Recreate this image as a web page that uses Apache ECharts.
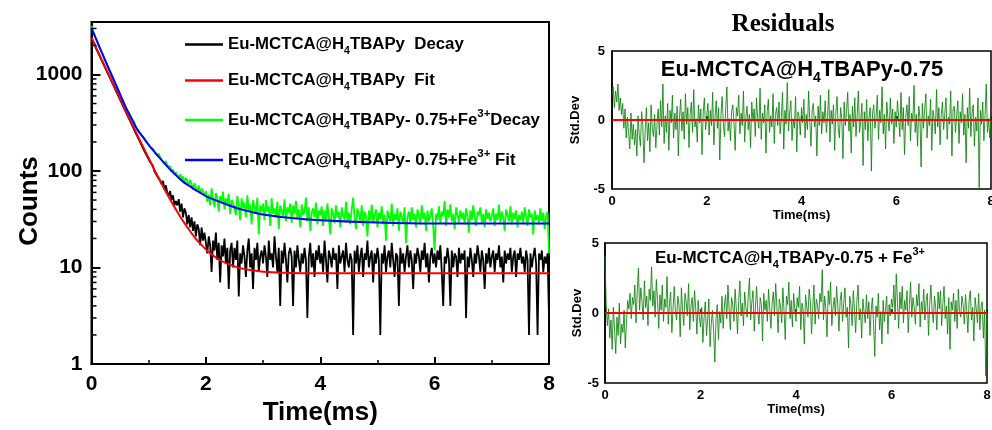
<!DOCTYPE html>
<html><head><meta charset="utf-8">
<script src="https://cdn.jsdelivr.net/npm/echarts@6/dist/echarts.min.js"></script>
<style>html,body{margin:0;padding:0;background:#fff}#c{width:992px;height:430px}</style>
</head><body><div id="c"></div>
<script>
// ---------- DATA ----------
const decayStep = 0.025; // ms between decay samples
const blackDecay = [
2430,2210,2100,1890,1820,1640,1570,1410,1360,1220,1170,1050,1010,915,880,790,760,680,655,590,
570,508,495,440,428,380,372,330,322,285,280,246,243,214,212,186,184,161,160,141,
138,124,121,113,99,101,88,91,80,73,79,64,71,60,55,62,50,56,44,49,
44,51,38,46,33,41,37,28,35,26,33,24,30,21,28,25,17,26,19,23,
22,14,21,17,9,19,15,23,12,18,7,17,13,20,11,16,6,15,18,10,
16,12,19,5,14,11,17,13,8,15,20,10,14,6,16,12,18,9,13,15,
11,17,13,8,19,12,14,10,21,13,9,16,4,15,11,18,12,7,14,16,
13,4,15,10,17,12,9,14,11,16,12,3,13,18,10,14,8,15,12,17,
11,14,9,19,12,7,15,13,10,16,12,14,6,17,11,13,15,9,18,12,
10,14,12,2,15,11,17,9,13,16,8,14,12,19,10,13,15,7,14,11,
16,12,2,14,11,17,9,13,15,10,18,12,8,14,13,4,16,11,14,9,
13,17,10,15,12,6,14,11,16,13,9,15,12,18,10,14,7,13,16,11,
14,10,15,12,17,9,4,13,11,16,12,4,15,10,14,13,8,16,11,14,
12,15,3,13,10,16,12,8,14,11,17,13,9,15,12,6,14,11,16,10,
13,15,9,14,12,17,10,13,7,15,11,14,12,16,9,13,15,8,14,12,
16,11,13,9,15,12,2,14,10,13,16,11,2,14,12,15,9,13,11,14,
3];
const greenDecay = [
3200,2780,2620,2350,2230,1990,1900,1700,1620,1450,1390,1240,1190,1060,1020,905,870,775,745,665,
640,570,550,488,470,432,410,372,362,335,318,286,281,262,255,236,233,218,212,198,
194,178,176,170,161,163,144,152,139,131,135,118,127,114,109,112,98,104,92,97,
95,84,93,81,88,76,85,79,70,81,73,64,75,68,62,71,58,66,61,55,
62,48,57,44,66,51,42,59,53,38,55,47,61,40,52,45,58,36,50,47,
49,35,55,44,31,52,41,47,33,56,39,45,28,50,42,36,53,22,44,38,
46,31,50,38,43,27,52,36,41,33,48,25,44,39,34,51,30,42,37,46,
29,44,36,49,32,40,26,45,35,38,53,30,42,24,37,41,33,47,28,39,
35,43,27,39,31,46,34,22,41,36,29,44,33,38,26,42,35,31,48,30,
37,28,40,53,33,25,41,36,30,44,27,38,34,21,39,31,45,29,35,40,
26,37,32,43,28,35,19,39,33,30,46,27,36,31,41,24,38,34,29,42,
18,33,38,29,42,31,36,26,40,34,28,44,32,37,24,39,30,35,41,27,
15,36,31,43,29,38,34,49,27,40,33,45,30,36,25,42,35,29,39,32,
37,28,41,34,23,39,31,44,33,27,38,35,42,29,36,26,40,32,37,30,
34,41,27,36,31,45,29,38,33,24,40,35,30,43,28,37,32,39,26,35,
31,38,29,42,34,27,40,33,36,22,39,31,35,28,41,30,37,25,34,38,
14];
const fitTime = [0,0.1,0.2,0.3,0.4,0.5,0.6,0.7,0.8,0.9,1.0,1.1,1.2,1.3,1.4,1.5,1.6,1.7,1.8,1.9,2.0,2.2,2.4,2.6,2.8,3.0,3.5,4,5,6,7,8];
const redFit  = [2409,1797,1342,1003,749,561,420,315,237,179,136,103,79,61,47.8,37.9,30.4,24.9,20.7,17.7,15.4,12.4,10.8,9.85,9.34,9.05,8.79,8.72,8.7,8.7,8.7,8.7];
const blueFit = [3020,2188,1585,1161,851,624,457,351,269,224,186,158,135,116,100,88,77.6,70.8,64.6,59.6,55,49,44.2,40.3,37.6,35.5,32.5,30.9,29.2,28.5,28.5,28.5];

const residStep = 0.025;
const resid1 = [
1.8,2.4,0.9,2.1,1.3,2.6,0.7,1.6,0.4,1.2,-0.6,0.8,-1.3,0.2,-0.9,-2.1,0.5,-1.4,-0.3,-1.8,
-0.7,-2.6,0.3,-1.1,-1.9,0.6,-0.4,-3.1,-0.8,0.9,-1.5,-0.2,-2.3,1.1,-0.6,-1.2,0.4,-2.0,-0.3,0.8,
-1.1,1.4,-0.5,2.6,-1.7,0.3,-0.9,1.2,-2.2,0.7,-0.2,1.8,-1.3,0.5,-0.7,1.0,-2.6,0.2,1.5,-0.8,
0.6,-1.4,1.9,-0.3,0.9,-2.0,0.4,1.3,-0.9,2.2,-0.5,0.1,-1.6,1.1,-0.2,0.8,-2.5,0.5,1.6,-0.7,
0.3,1.2,-1.1,0.7,-0.4,2.0,-1.8,0.2,1.4,-0.6,0.9,-2.9,0.4,1.7,-0.3,-1.2,0.8,2.4,-0.8,0.1,
-1.5,0.6,1.1,-0.2,-2.2,0.9,0.3,1.8,-1.0,0.5,-0.4,2.1,-1.6,0.2,1.0,-0.7,0.4,-2.0,1.3,-0.1,
0.8,-1.2,1.6,0.1,-0.6,2.3,-1.4,0.5,-0.2,1.1,-2.4,0.6,1.5,-0.9,0.3,-0.5,1.9,-1.7,0.4,0.9,
-0.4,1.3,-1.0,0.2,2.0,-2.1,0.7,-0.3,2.7,-0.8,0.5,1.4,-1.5,0.1,-0.6,1.7,-2.3,0.6,0.2,-1.1,
0.9,-0.2,1.5,-1.3,0.4,-0.7,2.1,-0.1,-1.9,0.8,1.2,-0.5,0.3,-2.6,1.0,-0.4,1.8,-1.0,0.6,-0.2,
1.4,-0.9,0.2,2.2,-1.6,0.7,-0.3,1.1,-2.2,0.5,1.7,-0.6,-1.3,0.9,0.1,-2.8,1.3,-0.4,0.6,2.0,
-0.8,0.4,-2.4,1.0,-0.5,1.6,-1.2,0.3,2.1,-0.9,-0.1,1.2,-3.3,0.6,-0.7,1.5,-1.5,0.2,0.9,-3.7,
0.5,1.1,-0.6,0.2,1.8,-1.4,0.7,-0.2,2.4,-1.0,0.4,-2.1,1.3,0.1,-0.8,1.6,-0.3,0.8,-1.7,0.6,
-0.5,1.4,0.3,-1.2,2.0,-0.7,0.9,-2.5,0.2,1.1,-0.4,1.7,-1.5,0.5,-0.1,2.5,-0.9,0.4,-1.9,1.0,
0.2,-3.4,1.2,-0.6,0.8,1.9,-1.3,0.3,-0.4,1.5,-2.2,0.7,0.1,-1.0,2.2,-0.5,0.9,-1.8,0.4,1.3,
-0.7,0.5,1.6,-1.4,0.2,-0.3,2.1,-2.6,0.8,1.0,-0.9,0.3,1.4,-1.7,0.6,-0.2,1.9,-1.1,0.4,-3.1,
0.9,-0.6,2.3,-1.2,0.5,1.1,-1.9,0.2,-0.8,1.6,-4.9,0.7,-0.3,1.3,-1.5,0.4,2.6,-0.9,0.1,-1.3,
0.3];
const resid2 = [
4.1,0.6,-0.9,0.3,-1.8,-0.5,-2.6,0.4,-1.2,-2.9,-0.3,-1.6,0.7,-2.2,-0.8,-1.4,0.2,-2.5,-0.6,0.9,
0.3,1.4,-0.4,1.1,0.6,2.0,-0.7,1.5,3.2,0.2,1.8,0.8,-0.5,2.3,0.4,1.2,-0.9,1.7,0.9,3.3,
0.5,1.6,-0.3,2.4,0.9,-1.1,1.3,0.2,2.0,-0.6,1.0,0.4,2.6,-0.8,0.7,1.5,-1.4,0.3,1.9,0.1,
-0.5,1.2,0.6,-1.7,1.8,0.2,-0.9,1.4,0.8,-0.2,2.1,-1.2,0.5,1.1,-0.6,1.6,0.3,-1.5,0.9,-0.3,
-1.0,0.4,-2.1,-0.3,0.8,-1.6,-0.5,1.0,-2.4,-0.8,0.2,-1.3,-3.5,-0.4,0.6,-1.9,0.1,-0.7,1.2,-1.1,
0.5,1.3,-0.4,2.0,0.2,-1.2,1.1,0.6,-0.6,1.7,0.3,-1.5,0.9,2.3,-0.2,0.7,-0.9,1.5,0.4,-0.3,
1.2,2.5,-0.5,0.8,1.6,-1.3,0.4,1.9,0.1,-0.8,1.1,0.6,-2.0,1.4,0.2,0.9,-0.6,1.7,0.3,-1.1,
0.7,1.5,-0.2,2.1,0.4,-1.4,1.0,0.5,-0.7,1.8,0.1,-1.9,1.2,0.6,2.2,-0.4,0.9,-1.0,1.4,0.2,
-0.6,1.1,0.4,1.9,-1.2,0.7,0.2,-2.2,1.3,0.5,-0.3,1.7,0.9,-1.5,0.3,2.0,-0.8,1.0,0.6,-0.4,
1.4,0.8,3.1,-0.5,1.2,0.3,-1.7,1.6,0.6,2.2,-0.9,0.4,1.1,-0.2,1.9,0.5,-1.3,0.9,1.5,-0.6,
0.7,1.8,-0.3,0.4,-2.5,1.2,0.6,-0.9,1.6,0.2,-1.4,0.9,2.0,-0.5,0.3,-1.8,1.0,0.1,-0.7,1.3,
-0.4,0.8,-1.6,0.2,1.1,-0.9,-3.1,0.5,-0.3,1.4,-1.2,0.1,-2.2,0.9,-0.6,0.3,1.2,-1.5,0.6,-0.2,
1.0,0.4,2.0,-0.5,2.8,0.7,-1.1,1.5,0.3,1.9,-0.7,0.9,0.2,1.6,-1.4,0.6,2.2,-0.3,1.1,0.4,
-0.8,1.3,0.5,2.1,-1.0,0.8,0.1,1.7,-0.5,0.9,1.4,-1.6,0.6,2.0,0.2,-0.7,1.2,0.4,-1.2,1.5,
0.3,1.6,-0.9,0.7,1.9,-0.4,0.5,-1.5,1.1,-2.6,0.8,0.2,1.4,-0.6,0.9,-1.1,1.7,0.1,-0.3,1.2,
0.6,-0.8,1.3,0.2,-1.4,0.9,1.6,-0.5,0.4,-2.0,1.1,0.3,-0.7,1.4,-1.2,0.5,0.8,-1.8,0.2,-4.5,
0.4];
const zeroT = [0, 8];
const zeroV = [0, 0];
const logMinorTicks = [2,3,4,5,6,7,8,9,20,30,40,50,60,70,80,90,200,300,400,500,600,700,800,900,2000,3000];
const seriesNames = ['Eu-MCTCA@H4TBAPy  Decay','Eu-MCTCA@H4TBAPy  Fit','Eu-MCTCA@H4TBAPy- 0.75+Fe3+ Decay','Eu-MCTCA@H4TBAPy- 0.75+Fe3+ Fit'];
const legendRichText = [
 '{m|Eu-MCTCA@H}{s|4}{m|TBAPy  Decay}',
 '{m|Eu-MCTCA@H}{s|4}{m|TBAPy  Fit}',
 '{m|Eu-MCTCA@H}{s|4}{m|TBAPy- 0.75+Fe}{p|3+}{m|Decay}',
 '{m|Eu-MCTCA@H}{s|4}{m|TBAPy- 0.75+Fe}{p|3+}{m| Fit}'
];

// ---------- CHART ----------
const F = '"Liberation Sans", Arial, sans-serif';
const pairs = (step, arr) => arr.map((v, i) => [Math.round(i * step * 1000) / 1000, v]);
const zip = (xs, ys) => xs.map((x, i) => [x, ys[i]]);
function richSet(base, sub, sup, lh) {
  return {
    m: {fontSize: base, fontWeight: 'bold', fontFamily: F, color: '#000', lineHeight: lh},
    s: {fontSize: sub, fontWeight: 'bold', fontFamily: F, color: '#000', lineHeight: sub, verticalAlign: 'bottom'},
    p: {fontSize: sup, fontWeight: 'bold', fontFamily: F, color: '#000', lineHeight: sup, verticalAlign: 'top'}
  };
}
const legendTop = [36, 72, 108, 148];
const legends = seriesNames.map((n, i) => ({
  data: [n], left: 185, top: legendTop[i], orient: 'vertical', padding: 0,
  itemWidth: 38, itemHeight: 2.5, icon: 'rect', selectedMode: false,
  formatter: () => legendRichText[i],
  textStyle: {rich: richSet(16.8, 10.5, 11.5, 24)}
}));

const lbl = (size) => ({fontSize: size, fontWeight: 'bold', fontFamily: F, color: '#000'});
const blackLine = (w) => ({lineStyle: {color: '#000', width: w}});

const option = {
  animation: false,
  backgroundColor: '#fff',
  legend: legends,
  grid: [
    {left: 91.5, top: 22, width: 457.5, height: 342, show: true, borderColor: '#000', borderWidth: 2, outerBoundsMode: 'none'},
    {left: 612, top: 51, width: 379, height: 138, show: true, borderColor: '#000', borderWidth: 1.5, outerBoundsMode: 'none'},
    {left: 605, top: 243, width: 382, height: 140, show: true, borderColor: '#000', borderWidth: 1.5, outerBoundsMode: 'none'}
  ],
  xAxis: [
    {gridIndex: 0, type: 'value', min: 0, max: 8, interval: 2,
     axisLine: blackLine(2), axisTick: {inside: true, length: 7, lineStyle: {color: '#000', width: 2}},
     minorTick: {show: true, splitNumber: 2, length: 4, lineStyle: {color: '#000', width: 1.5}},
     splitLine: {show: false}, axisLabel: Object.assign({margin: 10}, lbl(21)),
     name: 'Time(ms)', nameLocation: 'middle', nameGap: 33, nameTextStyle: lbl(26)},
    {gridIndex: 1, type: 'value', min: 0, max: 8, interval: 2,
     axisLine: blackLine(1.5), axisTick: {inside: true, length: 4, lineStyle: {color: '#000', width: 1.5}},
     splitLine: {show: false}, axisLabel: Object.assign({margin: 6}, lbl(13)),
     name: 'Time(ms)', nameLocation: 'middle', nameGap: 15, nameTextStyle: lbl(13)},
    {gridIndex: 2, type: 'value', min: 0, max: 8, interval: 2,
     axisLine: blackLine(1.5), axisTick: {inside: true, length: 4, lineStyle: {color: '#000', width: 1.5}},
     splitLine: {show: false}, axisLabel: Object.assign({margin: 6}, lbl(13)),
     name: 'Time(ms)', nameLocation: 'middle', nameGap: 17, nameTextStyle: lbl(13)}
  ],
  yAxis: [
    {gridIndex: 0, type: 'log', logBase: 10, min: 1, max: 3500,
     axisLine: blackLine(2), axisTick: {inside: true, length: 9, lineStyle: {color: '#000', width: 2}},
     splitLine: {show: false}, minorTick: {show: false},
     axisLabel: Object.assign({margin: 9, showMaxLabel: false, formatter: v => {
        const l = Math.log10(v); return Math.abs(l - Math.round(l)) < 1e-6 ? String(Math.round(v)) : ''; }}, lbl(21))},
    {gridIndex: 1, type: 'value', min: -5, max: 5, interval: 5,
     axisLine: blackLine(1.5), axisTick: {show: false}, splitLine: {show: false},
     axisLabel: Object.assign({margin: 7}, lbl(13)),
     name: 'Std.Dev', nameLocation: 'middle', nameGap: 30, nameTextStyle: lbl(13)},
    {gridIndex: 2, type: 'value', min: -5, max: 5, interval: 5,
     axisLine: blackLine(1.5), axisTick: {show: false}, splitLine: {show: false},
     axisLabel: Object.assign({margin: 6}, lbl(13)),
     name: 'Std.Dev', nameLocation: 'middle', nameGap: 17, nameTextStyle: lbl(13)}
  ],
  graphic: [
    {type: 'text', x: 30, y: 201, rotation: Math.PI / 2, style: {text: 'Counts', font: 'bold 26px ' + F, fill: '#000', align: 'center', verticalAlign: 'middle'}},
    {type: 'text', x: 783, y: 25, style: {text: 'Residuals', font: 'bold 25px "Liberation Serif", "Times New Roman", serif', fill: '#000', align: 'center', verticalAlign: 'middle'}},
    {type: 'text', x: 802, y: 70, style: {text: '{m|Eu-MCTCA@H}{s|4}{m|TBAPy-0.75}', rich: richSet(22, 14, 14, 30), align: 'center', verticalAlign: 'middle'}},
    {type: 'text', x: 790, y: 258, style: {text: '{m|Eu-MCTCA@H}{s|4}{m|TBAPy-0.75 + Fe}{p|3+}', rich: richSet(17, 11, 11, 24), align: 'center', verticalAlign: 'middle'}}
  ],
  series: [
    {name: seriesNames[0], type: 'line', xAxisIndex: 0, yAxisIndex: 0, data: pairs(decayStep, blackDecay),
     symbol: 'none', lineStyle: {color: '#000', width: 1.8}, itemStyle: {color: '#000'}, z: 2},
    {name: seriesNames[2], type: 'line', xAxisIndex: 0, yAxisIndex: 0, data: pairs(decayStep, greenDecay),
     symbol: 'none', lineStyle: {color: '#00ff00', width: 1.8}, itemStyle: {color: '#00ff00'}, z: 3},
    {name: seriesNames[1], type: 'line', xAxisIndex: 0, yAxisIndex: 0, data: zip(fitTime, redFit), smooth: 0.3,
     symbol: 'none', lineStyle: {color: '#ff0000', width: 2}, itemStyle: {color: '#ff0000'}, z: 4},
    {name: seriesNames[3], type: 'line', xAxisIndex: 0, yAxisIndex: 0, data: zip(fitTime, blueFit), smooth: 0.3,
     symbol: 'none', lineStyle: {color: '#0000ff', width: 2}, itemStyle: {color: '#0000ff'}, z: 5},
    {name: 'minorTicks', type: 'custom', xAxisIndex: 0, yAxisIndex: 0, silent: true, clip: false, z: 10,
     data: logMinorTicks.map(v => [0, v]),
     renderItem: (params, api) => {
       const p = api.coord([0, api.value(1)]);
       return {type: 'line', shape: {x1: p[0], y1: p[1], x2: p[0] + 5, y2: p[1]}, style: {stroke: '#000', lineWidth: 1.5}};
     }},
    {name: 'resid1', type: 'line', xAxisIndex: 1, yAxisIndex: 1, data: pairs(residStep, resid1),
     symbol: 'none', lineStyle: {color: 'rgba(10,130,10,0.85)', width: 1}},
    {name: 'zero1', type: 'line', xAxisIndex: 1, yAxisIndex: 1, data: zip(zeroT, zeroV),
     symbol: 'none', lineStyle: {color: '#ff0000', width: 2}, z: 5},
    {name: 'resid2', type: 'line', xAxisIndex: 2, yAxisIndex: 2, data: pairs(residStep, resid2),
     symbol: 'none', lineStyle: {color: 'rgba(10,130,10,0.85)', width: 1}},
    {name: 'zero2', type: 'line', xAxisIndex: 2, yAxisIndex: 2, data: zip(zeroT, zeroV),
     symbol: 'none', lineStyle: {color: '#ff0000', width: 2}, z: 5}
  ]
};
const chart = echarts.init(document.getElementById('c'));
chart.setOption(option);
</script>
</body></html>
